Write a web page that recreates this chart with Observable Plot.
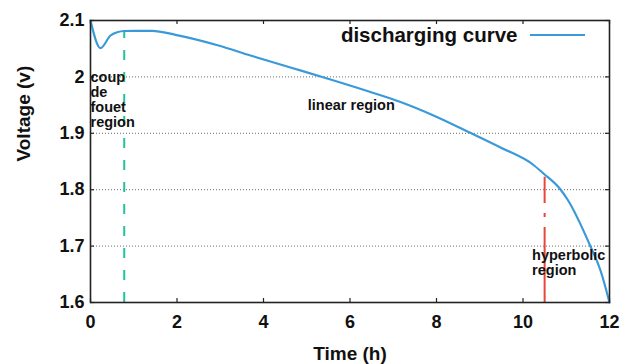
<!DOCTYPE html>
<html>
<head>
<meta charset="utf-8">
<script src="https://cdn.jsdelivr.net/npm/d3@7"></script>
<script src="https://cdn.jsdelivr.net/npm/@observablehq/plot@0.6"></script>
<style>
  html, body { margin: 0; padding: 0; background: #fff; }
  #chart { position: relative; width: 633px; height: 364px; }
</style>
</head>
<body>
<div id="chart"></div>
<script>
// Discharging curve (time in h, voltage in V)
const timeH = [0, 0.231, 0.462, 0.617, 0.786, 1.04, 1.427, 1.965, 2.96, 3.699, 4.624, 5.549, 6.474, 7.168, 7.931, 8.74, 9.48, 10.243, 10.474, 10.867, 11.029, 11.561, 11.792, 12.0];
const voltage = [2.1, 2.0509, 2.0734, 2.0793, 2.0814, 2.0817, 2.0817, 2.0746, 2.0557, 2.0379, 2.0167, 1.9954, 1.9732, 1.9555, 1.9316, 1.9023, 1.8748, 1.8438, 1.8287, 1.8004, 1.7826, 1.6993, 1.6567, 1.6];

const xTicks = [0, 2, 4, 6, 8, 10, 12];
const yTicks = [1.6, 1.7, 1.8, 1.9, 2.0, 2.1];
const gridTicks = [1.7, 1.8, 1.9, 2.0];

// region boundary markers
const coupMarker = [{t: 0.78, vLow: 1.6, vHigh: 2.082}];
const hyperMarker = [{t: 10.5, vLow: 1.6, vHigh: 1.822}];

// annotations
const coupNote = [{t: 0, v: 2.010, label: "coup\nde\nfouet\nregion"}];
const linearNote = [{t: 6.03, v: 1.949, label: "linear region"}];
const hyperNote = [{t: 10.21, v: 1.670, label: "hyperbolic\nregion"}];

const legendLabel = "discharging curve";
const xLabel = "Time (h)";
const yLabel = "Voltage (v)";

const curve = timeH.map((t, i) => ({t, v: voltage[i]}));
const blue = "#3a9ad9";
const font = "'Liberation Sans', Arial, Helvetica, sans-serif";
const noteStyle = {x: "t", y: "v", text: "label", fontSize: 14.5, fontWeight: "bold", lineHeight: 1.04, fill: "#111"};

const W = 633, H = 364, mL = 90, mR = 24, mT = 20, mB = 62;
const innerW = W - mL - mR, innerH = H - mT - mB, tk = 4;
const tickStyle = {stroke: "#222", strokeWidth: 1.2};

const plot = Plot.plot({
  width: W,
  height: H,
  marginLeft: mL,
  marginRight: mR,
  marginTop: mT,
  marginBottom: mB,
  style: {fontFamily: font, fontWeight: "bold", fontSize: "18px", color: "#111", background: "#fff"},
  x: {domain: [0, 12]},
  y: {domain: [1.6, 2.1]},
  marks: [
    Plot.gridY(gridTicks, {stroke: "#444", strokeOpacity: 1, strokeWidth: 0.8, strokeDasharray: "1,2"}),
    // inward ticks on all four sides
    Plot.ruleX(xTicks, {x: d => d, insetTop: innerH - tk, ...tickStyle}),
    Plot.ruleX(xTicks, {x: d => d, insetBottom: innerH - tk, ...tickStyle}),
    Plot.ruleY(yTicks, {y: d => d, insetRight: innerW - tk, ...tickStyle}),
    Plot.ruleY(yTicks, {y: d => d, insetLeft: innerW - tk, ...tickStyle}),
    // tick labels
    Plot.axisX({ticks: xTicks, tickSize: 0, tickPadding: 13, tickFormat: d => String(d), label: null, fontSize: 18, fontWeight: "bold"}),
    Plot.axisY({ticks: yTicks, tickSize: 0, tickPadding: 6, tickFormat: d => String(d), label: null, fontSize: 18, fontWeight: "bold"}),
    // markers
    Plot.ruleX(coupMarker, {x: "t", y1: "vLow", y2: "vHigh", stroke: "#22c39c", strokeWidth: 2, strokeDasharray: "10,12"}),
    Plot.ruleX(hyperMarker, {x: "t", y1: "vLow", y2: "vHigh", stroke: "#e8463c", strokeWidth: 2, strokeDasharray: "75,10,4,10"}),
    // curve
    Plot.line(curve, {x: "t", y: "v", stroke: blue, strokeWidth: 2.2, curve: "monotone-x"}),
    // annotations
    Plot.text(coupNote, {...noteStyle, textAnchor: "start", lineAnchor: "top"}),
    Plot.text(linearNote, {...noteStyle, textAnchor: "middle", lineAnchor: "middle"}),
    Plot.text(hyperNote, {...noteStyle, textAnchor: "start", lineAnchor: "middle"}),
    // legend text
    Plot.text([legendLabel], {frameAnchor: "top-right", dx: -92, dy: 15, textAnchor: "end", lineAnchor: "middle", fontSize: 20.5, fontWeight: "bold", fill: "#111"}),
    // axis titles
    Plot.text([yLabel], {frameAnchor: "left", dx: -67, rotate: -90, fontSize: 19, fontWeight: "bold", fill: "#111"}),
    Plot.text([xLabel], {frameAnchor: "bottom", dy: 51, lineAnchor: "middle", fontSize: 19, fontWeight: "bold", fill: "#111"}),
    Plot.frame({stroke: "#222", strokeWidth: 1.6})
  ]
});

// legend swatch
d3.select(plot).append("line")
  .attr("x1", 530).attr("x2", 585).attr("y1", 35).attr("y2", 35)
  .attr("stroke", blue).attr("stroke-width", 2.2);

document.getElementById("chart").appendChild(plot);
</script>
</body>
</html>
